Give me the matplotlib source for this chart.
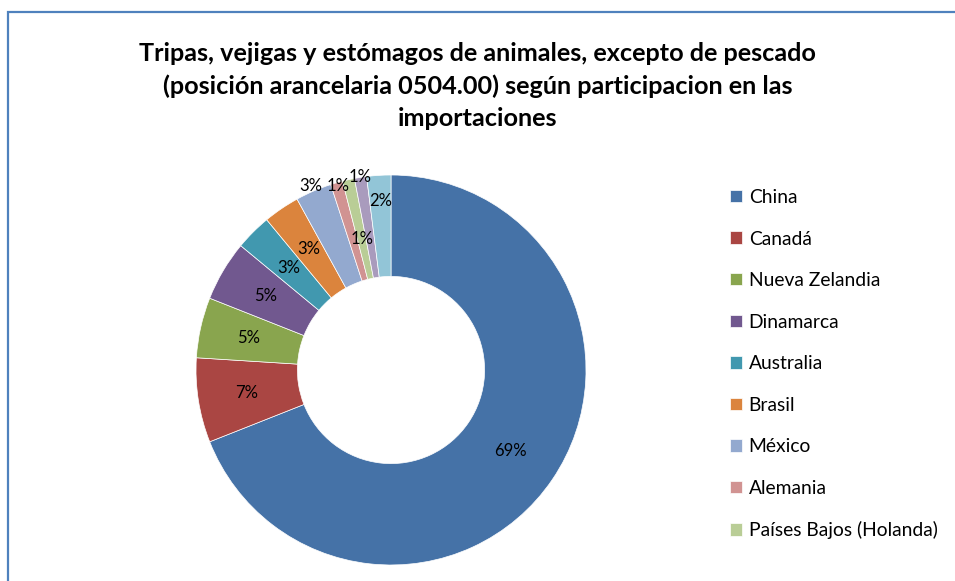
import matplotlib.pyplot as plt
from matplotlib.patches import Rectangle
import numpy as np

plt.rcParams['font.family'] = ['Lato', 'DejaVu Sans']

countries = ['China', 'Canadá', 'Nueva Zelandia', 'Dinamarca', 'Australia', 'Brasil',
             'México', 'Alemania', 'Países Bajos (Holanda)', 'Otros 1', 'Otros 2']
shares = [69, 7, 5, 5, 3, 3, 3, 1, 1, 1, 2]
colors = ['#4572A7', '#AA4643', '#89A54E', '#71588F', '#4198AF', '#DB843D',
          '#93A9CF', '#D19392', '#B9CD96', '#A99BBD', '#92C5D7']
# radial position of each data label (fraction of outer radius)
label_r = [0.74, 0.75, 0.75, 0.75, 0.74, 0.75, 1.03, 0.98, 0.69, 1.0, 0.87]
shown_in_legend = 9

fig = plt.figure(figsize=(9.55, 5.81), dpi=100)
W, H = 955, 581

# chart frame (only top and left edges visible in the crop)
fig.patches.append(Rectangle((8 / W, -0.1), 1.2, (H - 12) / H + 0.1,
                             transform=fig.transFigure, fill=False,
                             edgecolor='#4F81BD', lw=1.6, clip_on=False))

cx, cy, R = 391, H - 370, 195
ax = fig.add_axes([(cx - R) / W, (cy - R) / H, 2 * R / W, 2 * R / H])
wedges, _ = ax.pie(shares, colors=colors, startangle=90, counterclock=False,
                   radius=1, wedgeprops=dict(width=0.52, edgecolor='white', linewidth=0.5))
ax.set_xlim(-1, 1)
ax.set_ylim(-1, 1)
ax.set_aspect('equal')
ax.axis('off')

for w, s, r in zip(wedges, shares, label_r):
    mid = np.deg2rad((w.theta1 + w.theta2) / 2)
    ax.text(r * np.cos(mid), r * np.sin(mid), f'{s}%', ha='center', va='center',
            fontsize=12, color='black')

fig.text(0.5, (H - 86) / H,
         'Tripas, vejigas y estómagos de animales, excepto de pescado\n'
         '(posición arancelaria 0504.00) según participacion en las\n'
         'importaciones',
         ha='center', va='center', fontsize=18.2, fontweight='bold',
         linespacing=1.5)

fig.legend(wedges[:shown_in_legend], countries[:shown_in_legend],
           loc='upper left', bbox_to_anchor=(730 / W, (H - 189) / H),
           frameon=False, fontsize=13.9, handlelength=0.62, handleheight=0.62,
           handletextpad=0.35, labelspacing=1.27, borderpad=0, borderaxespad=0)

fig.savefig('out.png', dpi=100)
